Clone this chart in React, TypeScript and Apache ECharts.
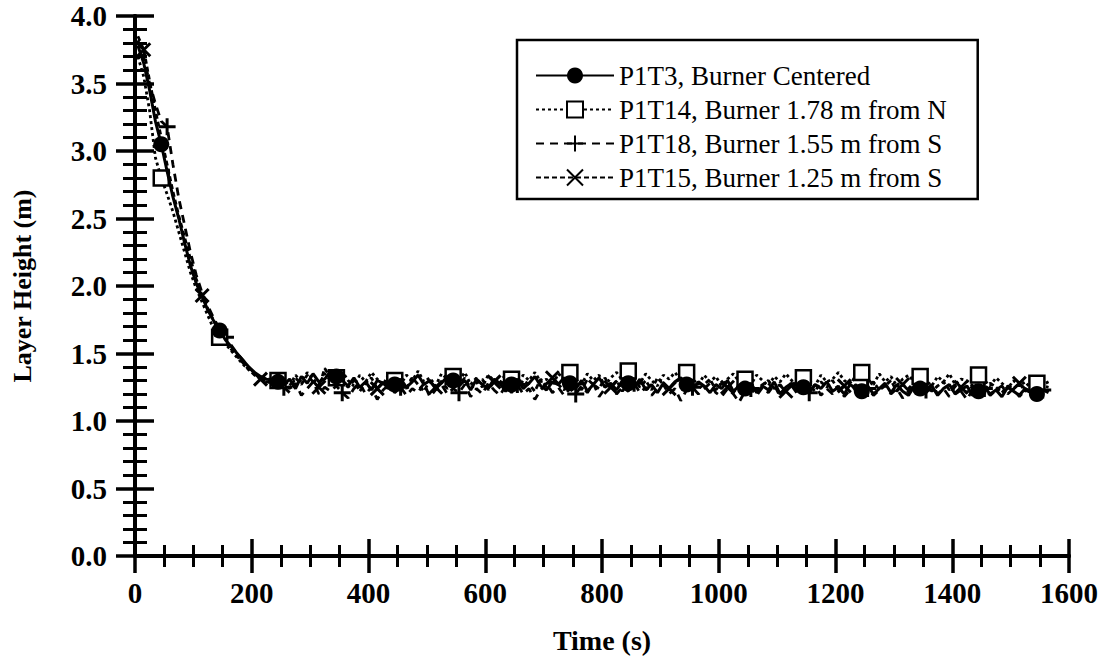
import React, { useEffect, useRef } from "react";
import * as echarts from "echarts";

const times = [
  5, 15, 25, 35, 45, 55, 65, 75, 85, 95,
  105, 115, 125, 135, 145, 155, 165, 175, 185, 195,
  205, 215, 225, 235, 245, 255, 265, 275, 285, 295,
  305, 315, 325, 335, 345, 355, 365, 375, 385, 395,
  405, 415, 425, 435, 445, 455, 465, 475, 485, 495,
  505, 515, 525, 535, 545, 555, 565, 575, 585, 595,
  605, 615, 625, 635, 645, 655, 665, 675, 685, 695,
  705, 715, 725, 735, 745, 755, 765, 775, 785, 795,
  805, 815, 825, 835, 845, 855, 865, 875, 885, 895,
  905, 915, 925, 935, 945, 955, 965, 975, 985, 995,
  1005, 1015, 1025, 1035, 1045, 1055, 1065, 1075, 1085, 1095,
  1105, 1115, 1125, 1135, 1145, 1155, 1165, 1175, 1185, 1195,
  1205, 1215, 1225, 1235, 1245, 1255, 1265, 1275, 1285, 1295,
  1305, 1315, 1325, 1335, 1345, 1355, 1365, 1375, 1385, 1395,
  1405, 1415, 1425, 1435, 1445, 1455, 1465, 1475, 1485, 1495,
  1505, 1515, 1525, 1535, 1545, 1555, 1565,
];

// P1T3, Burner Centered
const p1t3 = [
  3.78, 3.65, 3.45, 3.22, 3.05, 2.85, 2.66, 2.50, 2.32, 2.15,
  2.02, 1.92, 1.82, 1.74, 1.67, 1.60, 1.55, 1.50, 1.45, 1.40,
  1.36, 1.33, 1.31, 1.30, 1.29,
  1.27, 1.31, 1.24, 1.33, 1.28, 1.35, 1.29, 1.31, 1.37, 1.33,
  1.30, 1.26, 1.32, 1.25, 1.29, 1.23, 1.30, 1.28, 1.24, 1.27,
  1.31, 1.25, 1.29, 1.34, 1.27, 1.30, 1.24, 1.28, 1.33, 1.30,
  1.26, 1.30, 1.23, 1.31, 1.27, 1.24, 1.31, 1.28, 1.22, 1.27,
  1.31, 1.24, 1.28, 1.33, 1.26, 1.23, 1.29, 1.27, 1.32, 1.28,
  1.24, 1.30, 1.22, 1.27, 1.32, 1.25, 1.28, 1.23, 1.30, 1.28,
  1.25, 1.31, 1.23, 1.27, 1.21, 1.28, 1.24, 1.29, 1.32, 1.27,
  1.23, 1.29, 1.26, 1.21, 1.27, 1.24, 1.30, 1.22, 1.26, 1.24,
  1.28, 1.21, 1.26, 1.23, 1.29, 1.20, 1.25, 1.28, 1.22, 1.25,
  1.21, 1.27, 1.24, 1.29, 1.22, 1.25, 1.20, 1.27, 1.24, 1.22,
  1.26, 1.20, 1.24, 1.28, 1.21, 1.27, 1.22, 1.19, 1.26, 1.24,
  1.21, 1.26, 1.19, 1.24, 1.27, 1.20, 1.23, 1.26, 1.19, 1.22,
  1.25, 1.20, 1.23, 1.18, 1.25, 1.22, 1.19, 1.24, 1.21, 1.20,
  1.23, 1.21,
];

// P1T14, Burner 1.78 m from N
const p1t14 = [
  3.70, 3.55, 3.30, 2.95, 2.80, 2.68, 2.55, 2.40, 2.25, 2.10,
  1.98, 1.88, 1.78, 1.68, 1.62, 1.57, 1.52, 1.47, 1.42, 1.38,
  1.35, 1.32, 1.31, 1.31, 1.30,
  1.30, 1.26, 1.34, 1.29, 1.36, 1.31, 1.27, 1.35, 1.30, 1.32,
  1.37, 1.30, 1.26, 1.34, 1.29, 1.36, 1.31, 1.27, 1.35, 1.30,
  1.27, 1.34, 1.30, 1.37, 1.29, 1.32, 1.26, 1.35, 1.31, 1.33,
  1.30, 1.36, 1.27, 1.32, 1.25, 1.34, 1.30, 1.28, 1.35, 1.31,
  1.27, 1.34, 1.30, 1.36, 1.29, 1.31, 1.26, 1.35, 1.32, 1.36,
  1.31, 1.27, 1.35, 1.30, 1.34, 1.26, 1.32, 1.36, 1.30, 1.37,
  1.32, 1.28, 1.35, 1.30, 1.26, 1.34, 1.31, 1.36, 1.30, 1.36,
  1.31, 1.27, 1.34, 1.29, 1.33, 1.26, 1.31, 1.35, 1.29, 1.31,
  1.27, 1.34, 1.30, 1.26, 1.33, 1.29, 1.35, 1.30, 1.27, 1.32,
  1.30, 1.26, 1.34, 1.29, 1.31, 1.36, 1.30, 1.27, 1.34, 1.36,
  1.31, 1.27, 1.35, 1.29, 1.33, 1.26, 1.31, 1.34, 1.29, 1.33,
  1.30, 1.26, 1.33, 1.29, 1.35, 1.27, 1.31, 1.30, 1.26, 1.34,
  1.30, 1.26, 1.32, 1.28, 1.24, 1.30, 1.26, 1.29, 1.24, 1.28,
  1.27, 1.29,
];

// P1T18, Burner 1.55 m from S
const p1t18 = [
  3.82, 3.70, 3.50, 3.35, 3.22, 3.18, 2.90, 2.65, 2.45, 2.25,
  2.08, 1.95, 1.85, 1.76, 1.68, 1.62, 1.56, 1.50, 1.45, 1.40,
  1.35, 1.32, 1.29, 1.28, 1.27,
  1.25, 1.21, 1.28, 1.19, 1.24, 1.29, 1.20, 1.25, 1.22, 1.26,
  1.21, 1.17, 1.24, 1.28, 1.20, 1.25, 1.16, 1.23, 1.27, 1.21,
  1.25, 1.19, 1.24, 1.21, 1.28, 1.18, 1.23, 1.27, 1.20, 1.24,
  1.21, 1.27, 1.18, 1.24, 1.20, 1.28, 1.23, 1.19, 1.26, 1.21,
  1.27, 1.20, 1.24, 1.16, 1.23, 1.28, 1.21, 1.25, 1.19, 1.24,
  1.20, 1.26, 1.21, 1.28, 1.18, 1.24, 1.27, 1.20, 1.25, 1.22,
  1.28, 1.21, 1.25, 1.19, 1.24, 1.27, 1.20, 1.24, 1.15, 1.23,
  1.25, 1.20, 1.24, 1.28, 1.21, 1.18, 1.24, 1.20, 1.14, 1.22,
  1.24, 1.19, 1.25, 1.21, 1.27, 1.18, 1.23, 1.26, 1.20, 1.24,
  1.21, 1.27, 1.19, 1.24, 1.20, 1.26, 1.18, 1.23, 1.27, 1.21,
  1.24, 1.19, 1.23, 1.27, 1.20, 1.24, 1.17, 1.22, 1.26, 1.20,
  1.23, 1.27, 1.20, 1.24, 1.18, 1.26, 1.22, 1.16, 1.23, 1.20,
  1.24, 1.19, 1.23, 1.26, 1.20, 1.24, 1.18, 1.23, 1.21, 1.25,
  1.23, 1.24,
];

// P1T15, Burner 1.25 m from S
const p1t15 = [
  3.85, 3.75, 3.52, 3.30, 3.10, 2.90, 2.70, 2.52, 2.36, 2.20,
  2.05, 1.93, 1.83, 1.74, 1.66, 1.59, 1.53, 1.48, 1.43, 1.38,
  1.34, 1.31, 1.29, 1.28, 1.27,
  1.28, 1.24, 1.32, 1.27, 1.34, 1.29, 1.25, 1.39, 1.32, 1.28,
  1.30, 1.25, 1.30, 1.22, 1.28, 1.32, 1.24, 1.29, 1.27, 1.23,
  1.29, 1.24, 1.32, 1.27, 1.22, 1.30, 1.25, 1.29, 1.24, 1.29,
  1.27, 1.32, 1.24, 1.28, 1.31, 1.23, 1.29, 1.25, 1.33, 1.28,
  1.24, 1.30, 1.27, 1.22, 1.31, 1.25, 1.32, 1.27, 1.23, 1.29,
  1.28, 1.23, 1.31, 1.27, 1.24, 1.32, 1.25, 1.30, 1.22, 1.28,
  1.31, 1.25, 1.30, 1.23, 1.32, 1.27, 1.24, 1.29, 1.31, 1.26,
  1.29, 1.24, 1.27, 1.31, 1.23, 1.28, 1.25, 1.21, 1.27, 1.25,
  1.28, 1.23, 1.27, 1.30, 1.24, 1.27, 1.22, 1.29, 1.26, 1.23,
  1.27, 1.22, 1.29, 1.25, 1.30, 1.23, 1.26, 1.29, 1.22, 1.26,
  1.25, 1.29, 1.23, 1.26, 1.30, 1.22, 1.27, 1.24, 1.29, 1.24,
  1.27, 1.22, 1.26, 1.29, 1.23, 1.27, 1.25, 1.21, 1.26, 1.25,
  1.23, 1.28, 1.25, 1.21, 1.26, 1.24, 1.28, 1.22, 1.25, 1.24,
  1.26, 1.25,
];

const seriesNames = [
  "P1T3, Burner Centered",
  "P1T14, Burner 1.78 m from N",
  "P1T18, Burner 1.55 m from S",
  "P1T15, Burner 1.25 m from S",
];

const xTicks = { min: 0, max: 1600, interval: 200 };
const yTicks = { min: 0, max: 4, interval: 0.5 };

const FONT = "Liberation Serif";
const PLUS = "path://M5,0L5,10M0,5L10,5";
const CROSS = "path://M0,0L10,10M10,0L0,10";

function pairs(ys: number[]) {
  return times.map((t, i) => [t, ys[i]]);
}

export default function App() {
  const ref = useRef<HTMLDivElement>(null);
  useEffect(() => {
    if (!ref.current) return;
    const chart = echarts.init(ref.current, null, { renderer: "svg" });
    const axisLine = { show: true, lineStyle: { color: "#000", width: 4 } };
    const mkX = (pos: "bottom" | "top", labels: boolean) => ({
      type: "value",
      position: pos,
      min: xTicks.min,
      max: xTicks.max,
      interval: xTicks.interval,
      axisLine,
      axisTick: { show: true, inside: true, length: 17, lineStyle: { color: "#000", width: 3.5 } },
      minorTick: { show: true, splitNumber: 4, length: 11, lineStyle: { color: "#000", width: 3 } },
      splitLine: { show: false },
      axisLabel: {
        show: labels,
        margin: 22,
        color: "#000",
        fontFamily: FONT,
        fontWeight: "bold",
        fontSize: 29,
        formatter: (v: number) => String(v),
      },
      name: labels ? "Time (s)" : "",
      nameLocation: "middle",
      nameGap: 70,
      nameTextStyle: { color: "#000", fontFamily: FONT, fontWeight: "bold", fontSize: 28 },
    });
    const mkY = (pos: "left" | "right", labels: boolean) => ({
      type: "value",
      position: pos,
      min: yTicks.min,
      max: yTicks.max,
      interval: yTicks.interval,
      axisLine,
      axisTick: { show: true, inside: true, length: 19, lineStyle: { color: "#000", width: 3.5 } },
      minorTick: { show: true, splitNumber: 5, length: 12, lineStyle: { color: "#000", width: 3 } },
      splitLine: { show: false },
      axisLabel: {
        show: labels,
        margin: 28,
        color: "#000",
        fontFamily: FONT,
        fontWeight: "bold",
        fontSize: 29,
        formatter: (v: number) => v.toFixed(1),
      },
      name: labels ? "Layer Height (m)" : "",
      nameLocation: "middle",
      nameGap: 100,
      nameTextStyle: { color: "#000", fontFamily: FONT, fontWeight: "bold", fontSize: 26 },
    });

    const sizeFn = (k: number, s: number) => (_v: any, p: any) =>
      p.dataIndex % 10 === k ? s : 0;

    const option = {
      animation: false,
      backgroundColor: "#fff",
      textStyle: { fontFamily: FONT },
      grid: { left: 135, right: 41, top: 16, bottom: 105 },
      xAxis: [mkX("bottom", true), mkX("top", false)],
      yAxis: [mkY("left", true), mkY("right", false)],
      legend: {
        data: seriesNames,
        orient: "vertical",
        left: 517,
        top: 40,
        padding: [22, 31, 8, 18],
        borderColor: "#000",
        borderWidth: 2.5,
        backgroundColor: "#fff",
        itemWidth: 78,
        itemHeight: 20,
        itemGap: 7,
        textStyle: { color: "#000", fontFamily: FONT, fontSize: 27, lineHeight: 24 },
      },
      series: [
        {
          name: seriesNames[0],
          type: "line",
          data: pairs(p1t3),
          symbol: "circle",
          symbolSize: sizeFn(4, 16),
          showAllSymbol: true,
          itemStyle: { color: "#000" },
          lineStyle: { color: "#000", width: 3, type: "solid" },
          z: 5,
        },
        {
          name: seriesNames[1],
          type: "line",
          data: pairs(p1t14),
          symbol: "rect",
          symbolSize: sizeFn(4, 15),
          showAllSymbol: true,
          itemStyle: { color: "#fff", borderColor: "#000", borderWidth: 2.5 },
          lineStyle: { color: "#000", width: 2.8, type: [3, 3] },
          z: 4,
        },
        {
          name: seriesNames[2],
          type: "line",
          data: pairs(p1t18),
          symbol: PLUS,
          symbolSize: sizeFn(5, 17),
          showAllSymbol: true,
          itemStyle: { color: "#000", borderColor: "#000", borderWidth: 3 },
          lineStyle: { color: "#000", width: 2.8, type: [8, 6] },
          z: 3,
        },
        {
          name: seriesNames[3],
          type: "line",
          data: pairs(p1t15),
          symbol: CROSS,
          symbolSize: sizeFn(1, 13),
          showAllSymbol: true,
          itemStyle: { color: "#000", borderColor: "#000", borderWidth: 3 },
          lineStyle: { color: "#000", width: 2.8, type: [5, 3] },
          z: 3,
        },
      ],
    };
    chart.setOption(option as any);
    return () => chart.dispose();
  }, []);
  return (
    <div
      ref={ref}
      style={{ position: "fixed", left: 0, top: 0, width: 1110, height: 661, background: "#fff" }}
    />
  );
}
